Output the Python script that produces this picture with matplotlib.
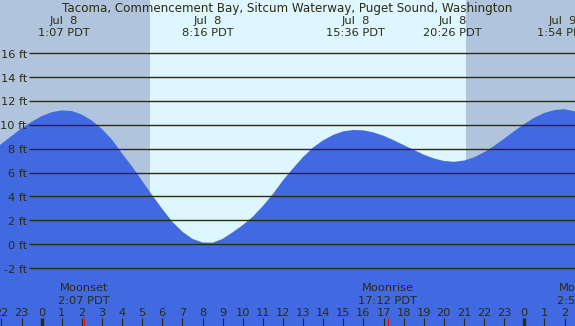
import numpy as np
import matplotlib
matplotlib.use('Agg')
import matplotlib.pyplot as plt

# --- data (hours from Jul 8 00:00 PDT, tide height in ft) ---
tide_hours = np.arange(-2.5, 27.5, 0.5)
tide_ft = [7.80, 8.40, 9.05, 9.70, 10.25, 10.72, 11.05, 11.20,
           11.15, 10.85, 10.35, 9.65, 8.75, 7.60, 6.50, 5.30, 4.10, 2.95, 1.88, 1.05, 0.45, 0.15,
           0.13, 0.45, 1.00, 1.60, 2.30, 3.20, 4.20, 5.35, 6.35, 7.30, 8.10, 8.70, 9.15, 9.45, 9.56,
           9.53, 9.36, 9.08, 8.71, 8.30, 7.90, 7.50, 7.18, 6.97, 6.90,
           7.00, 7.27, 7.70, 8.23, 8.84, 9.47, 10.07, 10.59, 10.99, 11.23, 11.30, 11.12, 10.80]

extreme_hours = [1.117, 8.267, 15.6, 20.433, 25.9]
extreme_labels = ['Jul  8\n1:07 PDT', 'Jul  8\n8:16 PDT', 'Jul  8\n15:36 PDT',
                  'Jul  8\n20:26 PDT', 'Jul  9\n1:54 PDT']

moon_hours = [2.117, 17.2, 26.92]
moon_names = ['Moonset', 'Moonrise', 'Moonset']
moon_times = ['2:07 PDT', '17:12 PDT', '2:55 PDT']

sunrise, sunset = 5.385, 21.1
ft_levels = [-2, 0, 2, 4, 6, 8, 10, 12, 14, 16]
hour_ticks = list(range(-2, 27))

title = 'Tacoma, Commencement Bay, Sitcum Waterway, Puget Sound, Washington'

# --- styles ---
NIGHT = '#b0c4de'
DAY = '#ddf6ff'
WATER = '#4169e1'
INK = '#2b2b10'
FS = 8.2
H = 326.0

x0, x1 = -2.07, 26.52
fig = plt.figure(figsize=(5.75, 3.26), dpi=100)
ax = fig.add_axes([0, 0, 1, 1])
ax.set_xlim(x0, x1)
ax.set_ylim(-6.84, 20.44)
ax.axis('off')

def fy(px):
    return 1 - px / H

tr = ax.get_xaxis_transform()

# day / night background
ax.axvspan(x0 - 1, sunrise, color=NIGHT, lw=0, zorder=0)
ax.axvspan(sunrise, sunset, color=DAY, lw=0, zorder=0)
ax.axvspan(sunset, x1 + 1, color=NIGHT, lw=0, zorder=0)

# tide
ax.fill_between(tide_hours, tide_ft, -20, color=WATER, lw=0, zorder=1)

# horizontal grid + labels
ax.hlines(ft_levels, -0.63, x1 + 1, color=INK, lw=1.0, zorder=2)
for v in ft_levels:
    ax.text(-0.73, v - 0.38, f'{v} ft', ha='right', va='baseline',
            fontsize=FS, color=INK, zorder=3)

# title and high/low labels
ax.text(0.5, fy(11.7), title, transform=ax.transAxes, ha='center', va='baseline',
        fontsize=8.55, color=INK)
for t, lab in zip(extreme_hours, extreme_labels):
    l1, l2 = lab.split('\n')
    ax.text(t, fy(24.3), l1, transform=tr, ha='center', va='baseline', fontsize=FS, color=INK)
    ax.text(t, fy(35.7), l2, transform=tr, ha='center', va='baseline', fontsize=FS, color=INK)

# hour ticks
for h in hour_ticks:
    lw = 2.4 if h % 24 == 0 else 0.8
    ax.vlines(h, 0, fy(318), transform=tr, color=INK, lw=lw, zorder=3)
    ax.text(h, fy(316), str(h % 24), transform=tr, ha='center', va='baseline',
            fontsize=FS, color=INK, zorder=3)

# moon events
for t, name, tm in zip(moon_hours, moon_names, moon_times):
    ax.vlines(t, 0, fy(318), transform=tr, color='red', lw=0.8, zorder=4)
    ax.text(t, fy(290.7), name, transform=tr, ha='center', va='baseline', fontsize=FS, color=INK)
    ax.text(t, fy(304), tm, transform=tr, ha='center', va='baseline', fontsize=FS, color=INK)

fig.savefig('out.png', dpi=100)
